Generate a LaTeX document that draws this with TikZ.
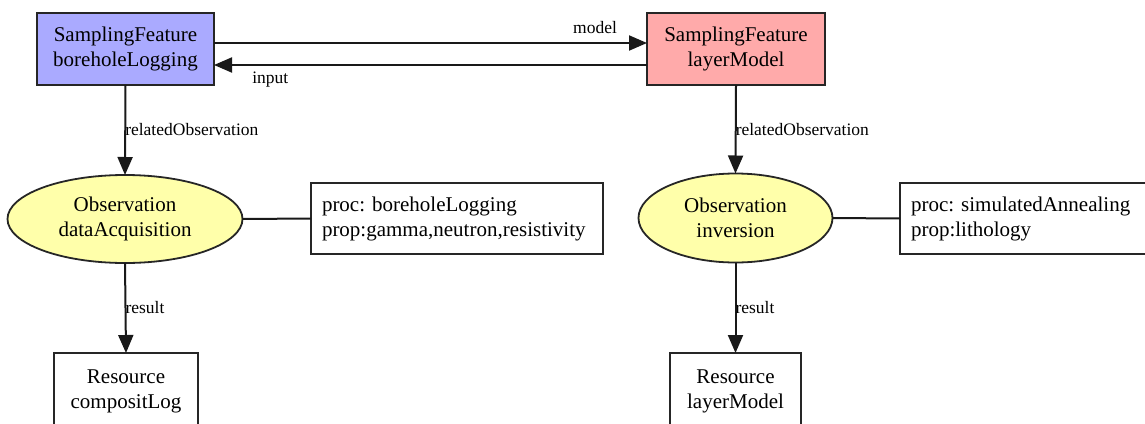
\documentclass[tikz,border=0pt]{standalone}
\usepackage{fontspec}
\setmainfont{Liberation Serif}
\frenchspacing
\usetikzlibrary{arrows.meta,shapes.geometric}
\definecolor{sfblue}{HTML}{AAAAFF}
\definecolor{sfred}{HTML}{FFAAAA}
\definecolor{obsyel}{HTML}{FFFFAA}
\tikzset{
  every node/.style={inner sep=0pt, outer sep=0pt},
  nodefont/.style={font=\fontsize{21}{25}\selectfont},
  sfbox/.style={draw=black!85, line width=2pt, minimum height=72pt, align=center, nodefont},
  obsell/.style={ellipse, draw=black!85, line width=1.8pt, fill=obsyel, align=center, nodefont},
  procbox/.style={draw=black!85, line width=1.8pt, minimum height=71pt, align=left, text width=#1, inner xsep=11pt, nodefont},
  resbox/.style={draw=black!85, line width=1.8pt, minimum height=76pt, align=center, nodefont},
  elabel/.style={font=\fontsize{17.5}{20}\selectfont},
  conn/.style={line width=2pt, draw=black!90, -{Triangle[length=18pt,width=15pt]}},
  plain/.style={line width=2pt, draw=black!90}
}
\begin{document}
\begin{tikzpicture}[x=1pt,y=-1pt]
\path[use as bounding box] (0,0) rectangle (1145,423);
\clip (0,0) rectangle (1145,423);
% top boxes
\node[sfbox, fill=sfblue, minimum width=177pt] (sfb) at (125.5,49) {SamplingFeature\\boreholeLogging};
\node[sfbox, fill=sfred, minimum width=178pt] (sfl) at (736,49) {SamplingFeature\\layerModel};
% observations
\node[obsell, minimum width=235pt, minimum height=88pt] (obs1) at (125,219) {Observation\\dataAcquisition};
\node[obsell, minimum width=194pt, minimum height=89pt] (obs2) at (735.5,218) {Observation\\inversion};
% proc boxes
\node[procbox=270pt, anchor=west] (proc1) at (311,218.5) {proc: boreholeLogging\\prop:gamma,neutron,resistivity};
\node[procbox=235pt, anchor=west] (proc2) at (900,218.5) {proc: simulatedAnnealing\\prop:lithology};
% resources
\node[resbox, minimum width=144pt] (res1) at (126,391) {Resource\\compositLog};
\node[resbox, minimum width=131pt] (res2) at (735.5,391) {Resource\\layerModel};
% connectors
\draw[conn] ([yshift=6pt]sfb.east) -- node[elabel, pos=0.88, above=9pt] (lmodel) {model} ([yshift=6pt]sfl.west);
\draw[conn] ([yshift=-16pt]sfl.west) -- node[elabel, pos=0.87, below=7pt] (linput) {input} ([yshift=-16pt]sfb.east);
\draw[conn] (sfb.south) -- node[elabel, anchor=west] (lro1) {relatedObservation} (obs1.north);
\draw[conn] (sfl.south) -- node[elabel, anchor=west] (lro2) {relatedObservation} (obs2.north);
\draw[conn] (obs1.south) -- node[elabel, anchor=west, pos=0.5] (lres1) {result} (res1.north);
\draw[conn] (obs2.south) -- node[elabel, anchor=west, pos=0.5] (lres2) {result} (res2.north);
\draw[plain] (obs1.east) -- (proc1.west);
\draw[plain] (obs2.east) -- (proc2.west);
\end{tikzpicture}
\end{document}
